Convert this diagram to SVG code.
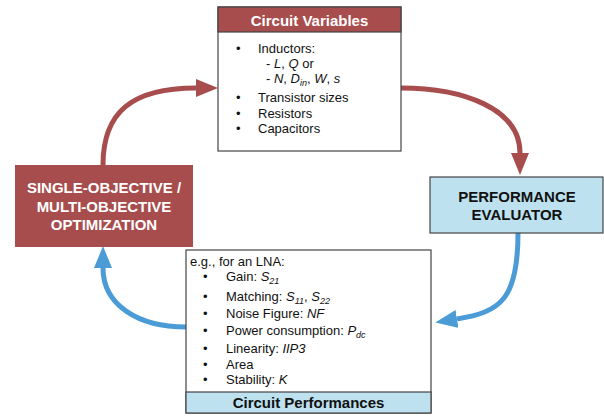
<svg xmlns="http://www.w3.org/2000/svg" width="604" height="417" viewBox="0 0 604 417">
<defs>
<marker id="ahRed" viewBox="0 0 22 18" refX="0" refY="9" markerWidth="22" markerHeight="18" markerUnits="userSpaceOnUse" orient="auto"><path d="M0,0 L22,9 L0,18 z" fill="#A84D4D"/></marker>
<marker id="ahBlue" viewBox="0 0 22 18" refX="0" refY="9" markerWidth="22" markerHeight="18" markerUnits="userSpaceOnUse" orient="auto"><path d="M0,0 L22,9 L0,18 z" fill="#4A9BD6"/></marker>
</defs>
<style>
text{font-family:"Liberation Sans",Arial,sans-serif;}
.body{font-size:13px;fill:#111;}
.hdr{font-size:15px;font-weight:bold;text-anchor:middle;}
.w{fill:#fff;}
.k{fill:#111;}
.i{font-style:italic;}
.sub{font-size:9px;font-style:italic;}
.red{fill:none;stroke:#A84D4D;stroke-width:5;marker-end:url(#ahRed);}
.blue{fill:none;stroke:#4A9BD6;stroke-width:5;marker-end:url(#ahBlue);}
.box{fill:#fff;stroke:#444;stroke-width:1.2;}
</style>
<rect width="604" height="417" fill="#fff"/>
<g id="connectors">
<path class="red" d="M103,165 C103,112 132,88 196,88"/>
<path class="red" d="M401,88 C462,88 520,108 520,153"/>
<path class="blue" d="M518,233 C518,300 500,312 457,319"/>
<path class="blue" d="M186,327 C138,327 103,305 103,268"/>
</g>
<g id="circuit-variables">
<rect class="box" x="218" y="7" width="183" height="144"/>
<rect x="218" y="7" width="183" height="25" fill="#A84D4D" stroke="#444" stroke-width="1.2"/>
<text class="hdr w" x="309.5" y="26">Circuit Variables</text>
<text class="body" x="236" y="53">•</text>
<text class="body" x="258" y="53">Inductors:</text>
<text class="body" x="266" y="68">- <tspan class="i">L</tspan>, <tspan class="i">Q</tspan> or</text>
<text class="body" x="266" y="83">- <tspan class="i">N</tspan>, <tspan class="i">D</tspan><tspan class="sub" dy="3">in</tspan><tspan dy="-3">, </tspan><tspan class="i">W</tspan>, <tspan class="i">s</tspan></text>
<text class="body" x="236" y="102">•</text>
<text class="body" x="258" y="102">Transistor sizes</text>
<text class="body" x="236" y="118">•</text>
<text class="body" x="258" y="118">Resistors</text>
<text class="body" x="236" y="133">•</text>
<text class="body" x="258" y="133">Capacitors</text>
</g>
<g id="optimization">
<rect x="15" y="165" width="178" height="82" fill="#A84D4D"/>
<text class="hdr w" x="104" y="193">SINGLE-OBJECTIVE /</text>
<text class="hdr w" x="104" y="212">MULTI-OBJECTIVE</text>
<text class="hdr w" x="104" y="230">OPTIMIZATION</text>
</g>
<g id="performance-evaluator">
<rect x="430" y="177" width="173" height="56" fill="#BDE1EF" stroke="#444" stroke-width="1.2"/>
<text class="hdr k" x="517" y="202">PERFORMANCE</text>
<text class="hdr k" x="517" y="220">EVALUATOR</text>
</g>
<g id="circuit-performances">
<rect class="box" x="186" y="250" width="245" height="163"/>
<rect x="186" y="392" width="245" height="21" fill="#BDE1EF" stroke="#444" stroke-width="1.2"/>
<text class="hdr k" x="308.5" y="408">Circuit Performances</text>
<text class="body" x="190" y="266">e.g., for an LNA:</text>
<text class="body" x="203" y="281">•</text>
<text class="body" x="226" y="281">Gain: <tspan class="i">S</tspan><tspan class="sub" dy="3">21</tspan></text>
<text class="body" x="203" y="301">•</text>
<text class="body" x="226" y="301">Matching: <tspan class="i">S</tspan><tspan class="sub" dy="3">11</tspan><tspan dy="-3">, </tspan><tspan class="i">S</tspan><tspan class="sub" dy="3">22</tspan></text>
<text class="body" x="203" y="318">•</text>
<text class="body" x="226" y="318">Noise Figure: <tspan class="i">NF</tspan></text>
<text class="body" x="203" y="335">•</text>
<text class="body" x="226" y="335">Power consumption: <tspan class="i">P</tspan><tspan class="sub" dy="3">dc</tspan></text>
<text class="body" x="203" y="353">•</text>
<text class="body" x="226" y="353">Linearity: <tspan class="i">IIP3</tspan></text>
<text class="body" x="203" y="369">•</text>
<text class="body" x="226" y="369">Area</text>
<text class="body" x="203" y="384">•</text>
<text class="body" x="226" y="384">Stability: <tspan class="i">K</tspan></text>
</g>
</svg>
